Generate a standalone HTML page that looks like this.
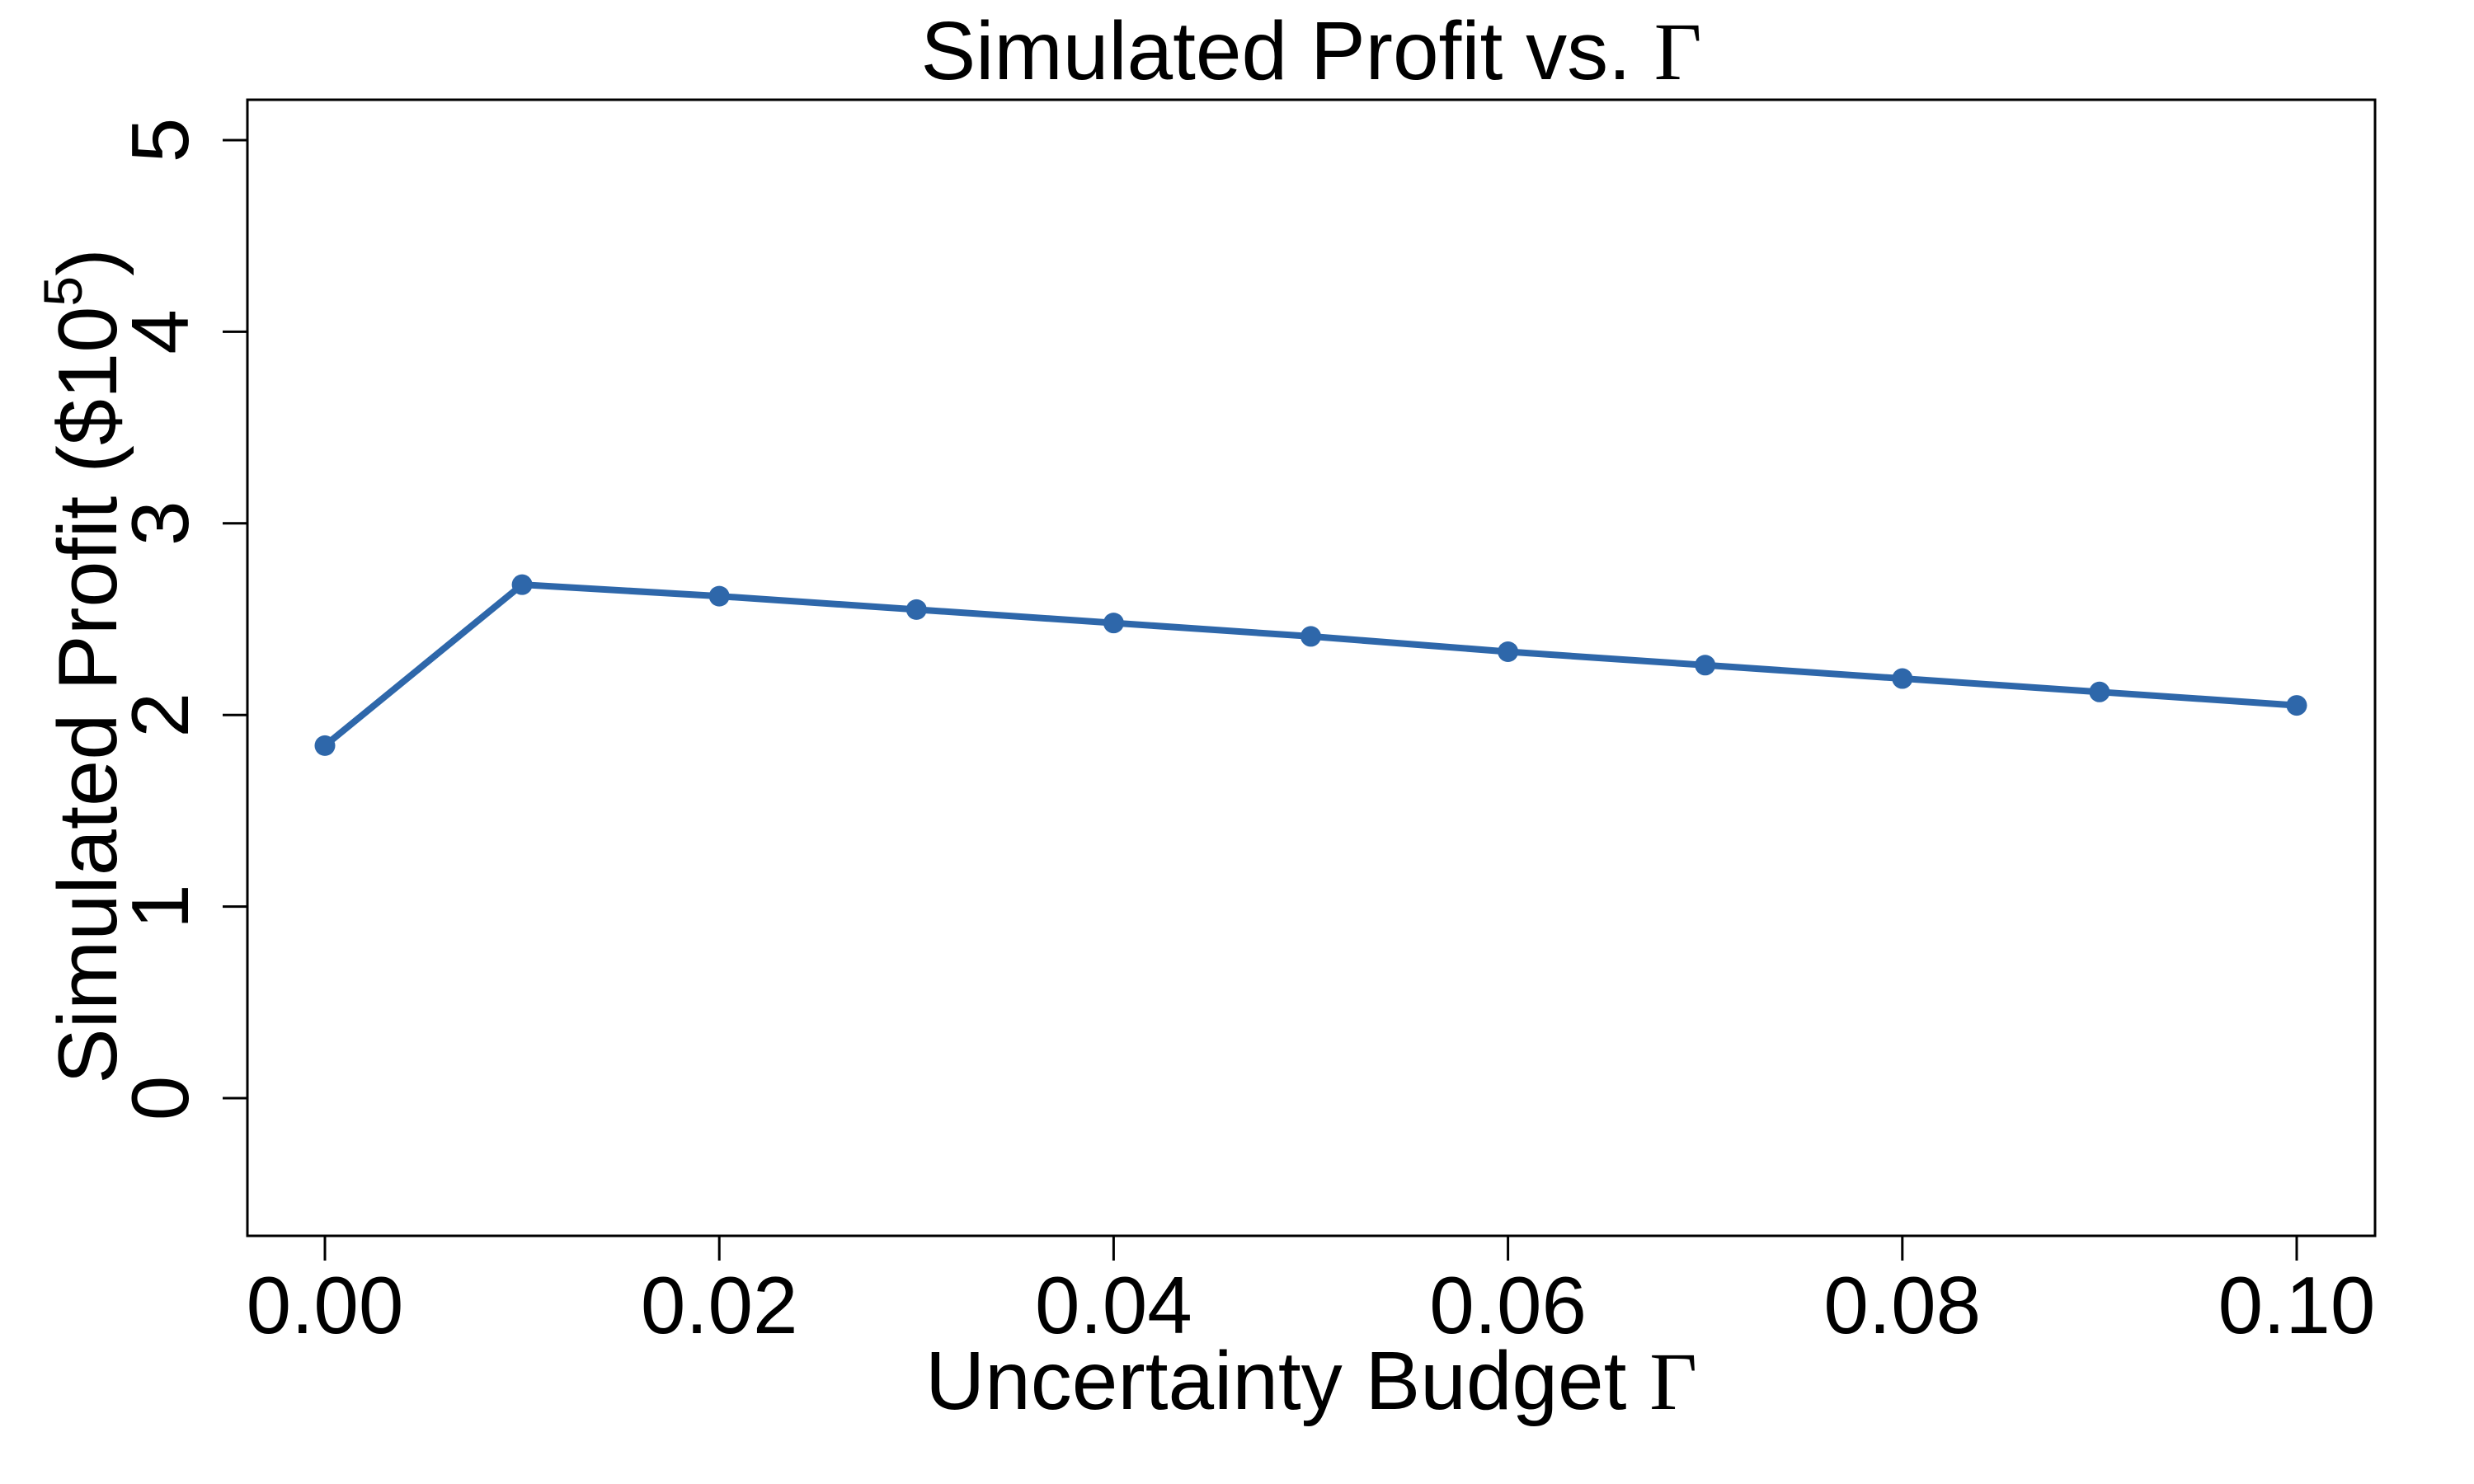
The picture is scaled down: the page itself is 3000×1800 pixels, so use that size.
<!DOCTYPE html>
<html><head><meta charset="utf-8"><style>
html,body{margin:0;padding:0;background:#fff;}
svg{display:block;font-family:"Liberation Sans",sans-serif;}
</style></head><body>
<svg id="chart" width="3000" height="1800" viewBox="0 0 3000 1800">
<rect x="0" y="0" width="3000" height="1800" fill="#fff"/>
<rect x="300" y="121" width="2580" height="1378" fill="none" stroke="#000" stroke-width="3"/>
<text x="1590" y="96" font-size="100" text-anchor="middle">Simulated Profit vs. <tspan font-family="Liberation Serif, serif">Γ</tspan></text>
<text x="1590" y="1709" font-size="100" text-anchor="middle">Uncertainty Budget <tspan font-family="Liberation Serif, serif">Γ</tspan></text>
<text transform="translate(141,808) rotate(-90)" font-size="101" text-anchor="middle">Simulated Profit ($10<tspan font-size="66" dy="-42">5</tspan><tspan dy="42">)</tspan></text>
<g id="xticks"></g><g id="yticks"></g><g id="series"></g>
</svg>
<script>
const xValues=[0,0.01,0.02,0.03,0.04,0.05,0.06,0.07,0.08,0.09,0.10];
const profit=[1.84,2.68,2.62,2.55,2.48,2.41,2.33,2.26,2.19,2.12,2.05];
const xTickValues=[0,0.02,0.04,0.06,0.08,0.10];
const xTickLabels=["0.00","0.02","0.04","0.06","0.08","0.10"];
const yTickValues=[0,1,2,3,4,5];
const yTickLabels=["0","1","2","3","4","5"];
const NS="http://www.w3.org/2000/svg";
const xs=v=>394+(v-0)/(0.10)*(2785-394);
const ys=v=>1332-(v/5)*(1332-170);
const bottom=1499,left=300;
function mk(tag,attrs,parent){const e=document.createElementNS(NS,tag);for(const k in attrs)e.setAttribute(k,attrs[k]);parent.appendChild(e);return e;}
const gx=document.getElementById('xticks');
xTickValues.forEach((v,i)=>{
 const l=mk('line',{x1:xs(v),x2:xs(v),y1:bottom,y2:bottom+30,stroke:'#000','stroke-width':3},gx);
 
 
 const t=mk('text',{x:xs(v),y:1617,'font-size':98,'text-anchor':'middle'},gx);
 t.textContent=xTickLabels[i];
 
 
});
const gy=document.getElementById('yticks');
yTickValues.forEach((v,i)=>{
 const l=mk('line',{x1:left-30,x2:left,y1:ys(v),y2:ys(v),stroke:'#000','stroke-width':3},gy);
 
 
 const t=mk('text',{transform:`translate(228,${ys(v)}) rotate(-90)`,'font-size':98,'text-anchor':'middle'},gy);
 t.textContent=yTickLabels[i];
 
 
});
const gs=document.getElementById('series');
const pts=xValues.map((x,i)=>xs(x)+','+ys(profit[i])).join(' ');
const pl=mk('polyline',{points:pts,fill:'none',stroke:'#2e67aa','stroke-width':8,'stroke-linejoin':'round'},gs);


xValues.forEach((x,i)=>{
 const c=mk('circle',{cx:xs(x),cy:ys(profit[i]),r:12.5,fill:'#2e67aa'},gs);
 
 
});
</script>
</body></html>
